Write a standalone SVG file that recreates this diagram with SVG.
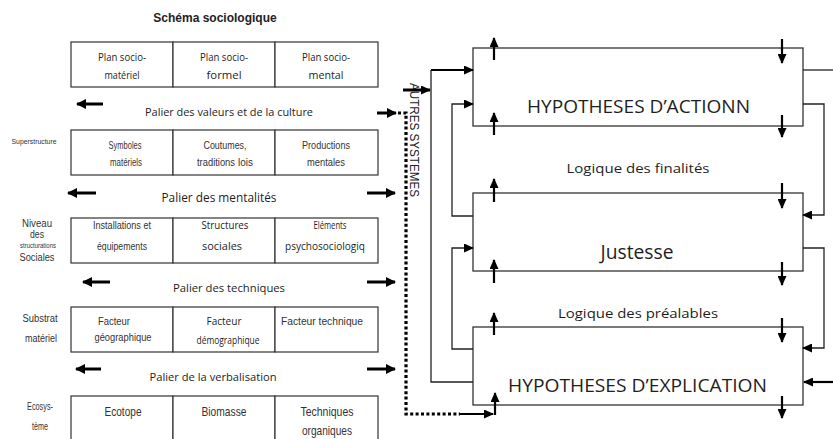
<svg xmlns="http://www.w3.org/2000/svg" width="833" height="439" viewBox="0 0 833 439">
  <style>
    .cell { fill: #fff; stroke: #333; stroke-width: 1.2; }
    .hyp { fill: #fff; stroke: #333; stroke-width: 1.3; }
    .hum { font-family: "Open Sans", "Liberation Sans", sans-serif; fill: #1e1e1e; }
    .nar { font-family: "Liberation Sans", Arial, sans-serif; fill: #333; }
    .ari { font-family: "Liberation Sans", Arial, sans-serif; fill: #222; }
    .c { text-anchor: middle; }
    .thick { stroke: #000; stroke-width: 3; fill: none; }
    .conn { stroke: #222; stroke-width: 1.3; fill: none; }
    .vert { stroke: #000; stroke-width: 2.2; fill: none; }
    .dots { stroke: #000; stroke-width: 3.2; fill: none; stroke-dasharray: 3 2.4; }
  </style>
  <defs>
    <marker id="bigHead" markerUnits="userSpaceOnUse" markerWidth="10" markerHeight="10" refX="9" refY="5" orient="auto">
      <path d="M0,0 L10,5 L0,10 Z" fill="#000"/>
    </marker>
    <marker id="head" markerUnits="userSpaceOnUse" markerWidth="10" markerHeight="9" refX="9" refY="4.5" orient="auto">
      <path d="M0,0 L10,4.5 L0,9 Z" fill="#000"/>
    </marker>
  </defs>

  <!-- title -->
  <text class="ari c" x="215" y="22" font-size="12" font-weight="bold">Schéma sociologique</text>

  <!-- side labels -->
  <g id="label-superstructure">
    <text class="nar c" x="34" y="144" font-size="7.5" textLength="45" lengthAdjust="spacingAndGlyphs">Superstructure</text>
  </g>
  <g id="label-niveau">
    <text class="nar c" x="37" y="227" font-size="10" textLength="30" lengthAdjust="spacingAndGlyphs">Niveau</text>
    <text class="nar c" x="37" y="238" font-size="10" textLength="14" lengthAdjust="spacingAndGlyphs">des</text>
    <text class="nar c" x="38" y="248" font-size="7" textLength="36" lengthAdjust="spacingAndGlyphs">structurations</text>
    <text class="nar c" x="37" y="261" font-size="10" textLength="35" lengthAdjust="spacingAndGlyphs">Sociales</text>
  </g>
  <g id="label-substrat">
    <text class="nar c" x="40" y="322" font-size="10" textLength="35" lengthAdjust="spacingAndGlyphs">Substrat</text>
    <text class="nar c" x="41" y="342" font-size="10" textLength="32" lengthAdjust="spacingAndGlyphs">matériel</text>
  </g>
  <g id="label-ecosysteme">
    <text class="nar c" x="40" y="410" font-size="10" textLength="26" lengthAdjust="spacingAndGlyphs">Ecosys-</text>
    <text class="nar c" x="40" y="430" font-size="10" textLength="16" lengthAdjust="spacingAndGlyphs">tème</text>
  </g>

  <!-- row 1: plans -->
  <g id="row-plans">
    <rect class="cell" x="71" y="42" width="102" height="45"/>
    <rect class="cell" x="173" y="42" width="102" height="45"/>
    <rect class="cell" x="275" y="42" width="103" height="45"/>
    <text class="hum c" font-size="10" x="122" y="61" textLength="48" lengthAdjust="spacingAndGlyphs">Plan socio-</text>
    <text class="hum c" font-size="10" x="122" y="79" textLength="35" lengthAdjust="spacingAndGlyphs">matériel</text>
    <text class="hum c" font-size="10" x="224" y="61" textLength="48" lengthAdjust="spacingAndGlyphs">Plan socio-</text>
    <text class="hum c" font-size="10" x="224" y="79" textLength="35" lengthAdjust="spacingAndGlyphs">formel</text>
    <text class="hum c" font-size="10" x="326" y="61" textLength="48" lengthAdjust="spacingAndGlyphs">Plan socio-</text>
    <text class="hum c" font-size="10" x="326" y="79" textLength="35" lengthAdjust="spacingAndGlyphs">mental</text>
  </g>

  <!-- row 2: superstructure -->
  <g id="row-superstructure">
    <rect class="cell" x="71" y="130" width="102" height="45"/>
    <rect class="cell" x="173" y="130" width="102" height="45"/>
    <rect class="cell" x="275" y="130" width="103" height="45"/>
    <text class="nar c" font-size="10.5" x="125" y="149" textLength="33" lengthAdjust="spacingAndGlyphs">Symboles</text>
    <text class="nar c" font-size="10.5" x="126" y="166" textLength="32" lengthAdjust="spacingAndGlyphs">matériels</text>
    <text class="nar c" font-size="10.5" x="225" y="149" textLength="43" lengthAdjust="spacingAndGlyphs">Coutumes,</text>
    <text class="nar" font-size="10.5" x="197" y="166" textLength="38" lengthAdjust="spacingAndGlyphs">traditions</text>
    <text class="nar" font-size="11.5" x="238" y="166" textLength="15" lengthAdjust="spacingAndGlyphs">lois</text>
    <text class="nar c" font-size="10.5" x="326" y="149" textLength="48" lengthAdjust="spacingAndGlyphs">Productions</text>
    <text class="nar c" font-size="10.5" x="326" y="166" textLength="38" lengthAdjust="spacingAndGlyphs">mentales</text>
  </g>

  <!-- row 3: social structures -->
  <g id="row-structurations">
    <rect class="cell" x="71" y="218" width="102" height="45"/>
    <rect class="cell" x="173" y="218" width="102" height="45"/>
    <rect class="cell" x="275" y="218" width="103" height="45"/>
    <text class="nar c" font-size="10.5" x="122" y="229" textLength="58" lengthAdjust="spacingAndGlyphs">Installations et</text>
    <text class="nar c" font-size="10.5" x="122" y="250" textLength="50" lengthAdjust="spacingAndGlyphs">équipements</text>
    <text class="hum c" font-size="10" x="225" y="229" textLength="47" lengthAdjust="spacingAndGlyphs">Structures</text>
    <text class="hum c" font-size="10" x="222" y="250" textLength="40" lengthAdjust="spacingAndGlyphs">sociales</text>
    <text class="hum c" font-size="10" x="330" y="229" textLength="33" lengthAdjust="spacingAndGlyphs">Eléments</text>
    <text class="hum c" font-size="10" x="325" y="250" textLength="80" lengthAdjust="spacingAndGlyphs">psychosociologiq</text>
  </g>

  <!-- row 4: material substrate -->
  <g id="row-substrat">
    <rect class="cell" x="71" y="307" width="102" height="45"/>
    <rect class="cell" x="173" y="307" width="102" height="45"/>
    <rect class="cell" x="275" y="307" width="103" height="45"/>
    <text class="nar c" font-size="10.5" x="114" y="325" textLength="32" lengthAdjust="spacingAndGlyphs">Facteur</text>
    <text class="nar c" font-size="10.5" x="123" y="341" textLength="57" lengthAdjust="spacingAndGlyphs">géographique</text>
    <text class="hum c" font-size="10" x="224" y="325" textLength="35" lengthAdjust="spacingAndGlyphs">Facteur</text>
    <text class="hum c" font-size="10" x="228" y="344" textLength="63" lengthAdjust="spacingAndGlyphs">démographique</text>
    <text class="nar c" font-size="10.5" x="322" y="325" textLength="82" lengthAdjust="spacingAndGlyphs">Facteur technique</text>
  </g>

  <!-- row 5: ecosystem -->
  <g id="row-ecosysteme">
    <rect class="cell" x="71" y="396" width="102" height="50"/>
    <rect class="cell" x="173" y="396" width="102" height="50"/>
    <rect class="cell" x="275" y="396" width="103" height="50"/>
    <text class="nar c" font-size="13" x="123" y="416" textLength="37" lengthAdjust="spacingAndGlyphs">Ecotope</text>
    <text class="nar c" font-size="13" x="224" y="416" textLength="45" lengthAdjust="spacingAndGlyphs">Biomasse</text>
    <text class="nar c" font-size="13" x="327" y="416" textLength="53" lengthAdjust="spacingAndGlyphs">Techniques</text>
    <text class="nar c" font-size="13" x="327" y="435" textLength="50" lengthAdjust="spacingAndGlyphs">organiques</text>
  </g>

  <!-- levels between rows -->
  <g id="palier-valeurs">
    <text class="hum c" font-size="11.5" x="229" y="116" textLength="168" lengthAdjust="spacingAndGlyphs">Palier des valeurs et de la culture</text>
    <path class="thick" d="M103,104 H77" marker-end="url(#bigHead)"/>
  </g>
  <g id="palier-mentalites">
    <text class="hum c" font-size="13.5" x="219" y="202" textLength="115" lengthAdjust="spacingAndGlyphs">Palier des mentalités</text>
    <path class="thick" d="M96,193 H68" marker-end="url(#bigHead)"/>
    <path class="thick" d="M367,193 H395" marker-end="url(#bigHead)"/>
  </g>
  <g id="palier-techniques">
    <text class="hum c" font-size="11.5" x="229" y="292" textLength="112" lengthAdjust="spacingAndGlyphs">Palier des techniques</text>
    <path class="thick" d="M110,282 H83" marker-end="url(#bigHead)"/>
    <path class="thick" d="M367,282 H395" marker-end="url(#bigHead)"/>
  </g>
  <g id="palier-verbalisation">
    <text class="hum c" font-size="11.5" x="213" y="381" textLength="127" lengthAdjust="spacingAndGlyphs">Palier de la verbalisation</text>
    <path class="thick" d="M101,369 H76" marker-end="url(#bigHead)"/>
    <path class="thick" d="M367,369 H395" marker-end="url(#bigHead)"/>
  </g>

  <!-- other systems link -->
  <g id="autres-systemes">
    <text class="ari" font-size="12" transform="translate(410,83) rotate(90)" textLength="114" lengthAdjust="spacingAndGlyphs">AUTRES SYSTEMES</text>
  </g>

  <!-- hypothesis boxes -->
  <g id="hyp-action">
    <rect class="hyp" x="473" y="48" width="330" height="78"/>
    <text class="hum c" font-size="19" x="638.5" y="113" textLength="223" lengthAdjust="spacingAndGlyphs">HYPOTHESES D’ACTIONN</text>
  </g>
  <g id="logique-finalites">
    <text class="hum c" font-size="13.5" x="638" y="173" textLength="143" lengthAdjust="spacingAndGlyphs">Logique des finalités</text>
  </g>
  <g id="justesse">
    <rect class="hyp" x="473" y="193" width="330" height="78"/>
    <text class="hum c" font-size="20" x="637" y="259" textLength="73" lengthAdjust="spacingAndGlyphs">Justesse</text>
  </g>
  <g id="logique-prealables">
    <text class="hum c" font-size="13.5" x="638" y="318" textLength="160" lengthAdjust="spacingAndGlyphs">Logique des préalables</text>
  </g>
  <g id="hyp-explication">
    <rect class="hyp" x="473" y="327" width="330" height="78"/>
    <text class="hum c" font-size="19" x="637.5" y="392" textLength="259" lengthAdjust="spacingAndGlyphs">HYPOTHESES D’EXPLICATION</text>
  </g>

  <!-- connectors -->
  <g id="connectors">
    <!-- culture level out to other systems -->
    <path class="thick" d="M377,113 H396" marker-end="url(#bigHead)"/>
    <path class="dots" d="M398,113 H406 V414 H460"/>
    <path class="vert" d="M460,414 H493" marker-end="url(#head)"/>
    <path class="thick" stroke-width="2" d="M403,90 H430" marker-end="url(#head)"/>

    <!-- left feedback loops -->
    <path class="conn" d="M473,382 H431 V70"/>
    <path class="vert" d="M431,70 H473" marker-end="url(#head)"/>
    <path class="conn" d="M473,216 H452 V104 H473" marker-end="url(#head)"/>
    <path class="conn" d="M473,349 H452 V248 H473" marker-end="url(#head)"/>

    <!-- right feedback loops -->
    <path class="conn" d="M803,70 H833"/>
    <path class="conn" d="M803,104 H824 V215 H803" marker-end="url(#head)"/>
    <path class="conn" d="M803,248 H824 V348 H803" marker-end="url(#head)"/>
    <path class="vert" d="M833,382 H804" marker-end="url(#head)"/>

    <!-- vertical exchange arrows on the boxes -->
    <path class="vert" d="M494,60 V38" marker-end="url(#head)"/>
    <path class="vert" d="M494,135 V113" marker-end="url(#head)"/>
    <path class="vert" d="M494,202 V179" marker-end="url(#head)"/>
    <path class="vert" d="M494,283 V260" marker-end="url(#head)"/>
    <path class="vert" d="M494,335 V313" marker-end="url(#head)"/>
    <path class="vert" d="M495,415 V393" marker-end="url(#head)"/>

    <path class="vert" d="M782,39 V63" marker-end="url(#head)"/>
    <path class="vert" d="M782,115 V137" marker-end="url(#head)"/>
    <path class="vert" d="M782,183 V208" marker-end="url(#head)"/>
    <path class="vert" d="M782,262 V285" marker-end="url(#head)"/>
    <path class="vert" d="M782,318 V342" marker-end="url(#head)"/>
    <path class="vert" d="M782,396 V418" marker-end="url(#head)"/>
  </g>
</svg>
